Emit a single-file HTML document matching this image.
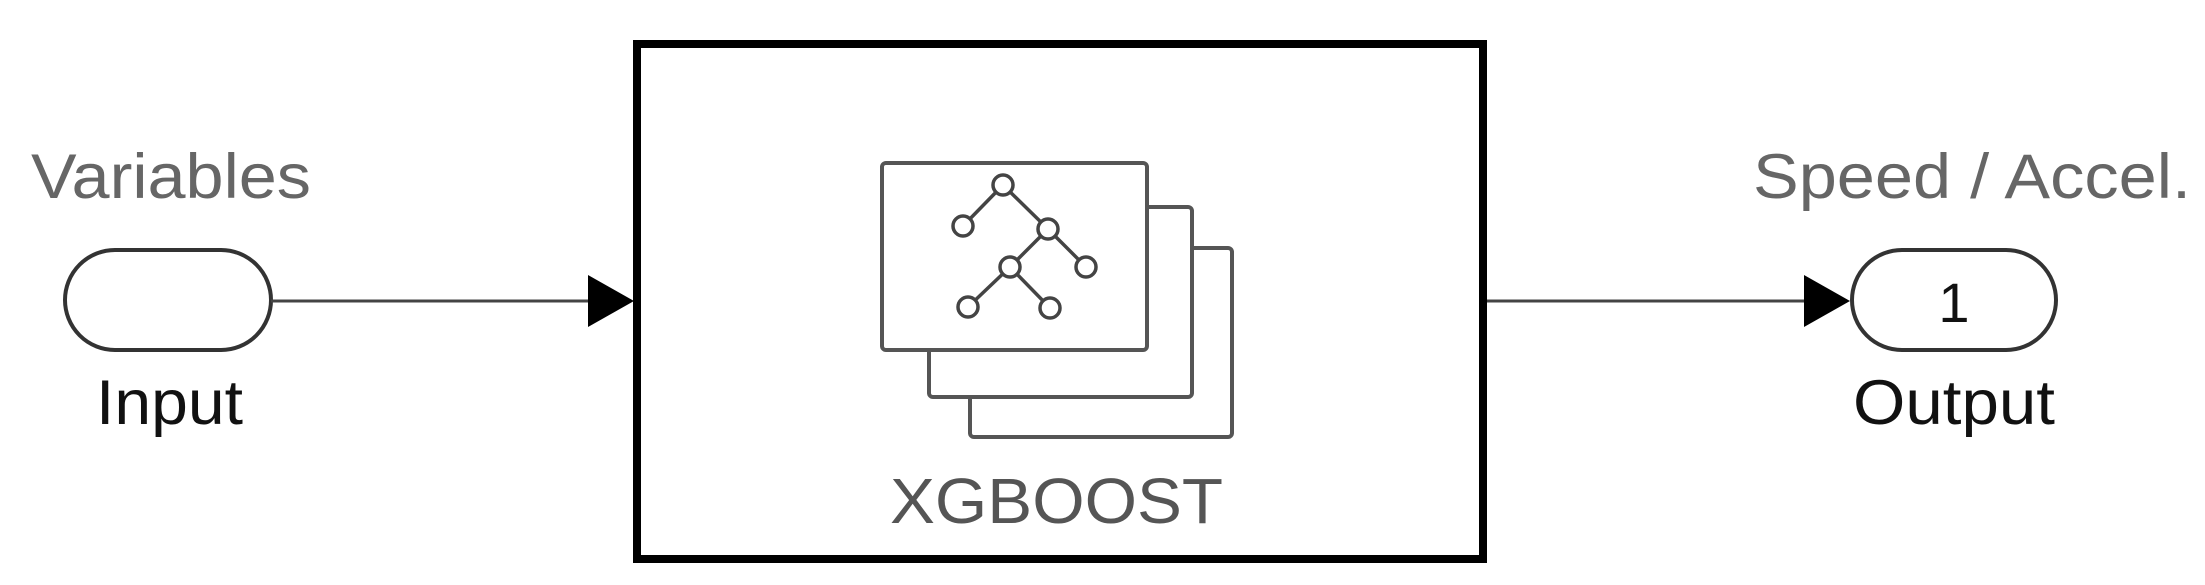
<!DOCTYPE html>
<html><head><style>html,body{margin:0;padding:0;background:#fff}svg{display:block}</style></head>
<body>
<svg width="2205" height="585" viewBox="0 0 2205 585" xmlns="http://www.w3.org/2000/svg" font-family="Liberation Sans, sans-serif">
<rect x="637" y="44" width="846" height="515" fill="#fff" stroke="#000" stroke-width="8"/>
<rect x="65" y="250" width="206" height="100" rx="50" ry="50" fill="#fff" stroke="#333" stroke-width="4"/>
<line x1="271" y1="301" x2="600" y2="301" stroke="#444" stroke-width="3"/>
<polygon points="588,275 634,301 588,327" fill="#000"/>
<line x1="1487" y1="301" x2="1815" y2="301" stroke="#444" stroke-width="3"/>
<polygon points="1804,275 1850,301 1804,327" fill="#000"/>
<rect x="1852" y="250" width="204" height="100" rx="50" ry="50" fill="#fff" stroke="#333" stroke-width="4"/>
<text x="1954" y="322" font-size="56" text-anchor="middle" fill="#111">1</text>
<text x="31" y="198" font-size="63" fill="#666" textLength="280" lengthAdjust="spacingAndGlyphs">Variables</text>
<text x="96" y="424" font-size="63" fill="#111" textLength="147" lengthAdjust="spacingAndGlyphs">Input</text>
<text x="1753" y="198" font-size="63" fill="#666" textLength="438" lengthAdjust="spacingAndGlyphs">Speed / Accel.</text>
<text x="1853" y="424" font-size="63" fill="#111" textLength="202" lengthAdjust="spacingAndGlyphs">Output</text>
<text x="890" y="523" font-size="64" fill="#555" textLength="333" lengthAdjust="spacingAndGlyphs">XGBOOST</text>
<g fill="#fff" stroke="#555" stroke-width="4">
<rect x="970" y="248" width="262" height="189" rx="4"/>
<rect x="929" y="207" width="263" height="190" rx="4"/>
<rect x="882" y="163" width="265" height="187" rx="4"/>
</g>
<g stroke="#444" stroke-width="3.5" fill="#fff">
<line x1="1003" y1="185" x2="963" y2="226"/>
<line x1="1003" y1="185" x2="1048" y2="229"/>
<line x1="1048" y1="229" x2="1010" y2="267"/>
<line x1="1048" y1="229" x2="1086" y2="267"/>
<line x1="1010" y1="267" x2="968" y2="307"/>
<line x1="1010" y1="267" x2="1050" y2="308"/>
<circle cx="1003" cy="185" r="10"/>
<circle cx="963" cy="226" r="10"/>
<circle cx="1048" cy="229" r="10"/>
<circle cx="1010" cy="267" r="10"/>
<circle cx="1086" cy="267" r="10"/>
<circle cx="968" cy="307" r="10"/>
<circle cx="1050" cy="308" r="10"/>
</g>
</svg>
</body></html>
